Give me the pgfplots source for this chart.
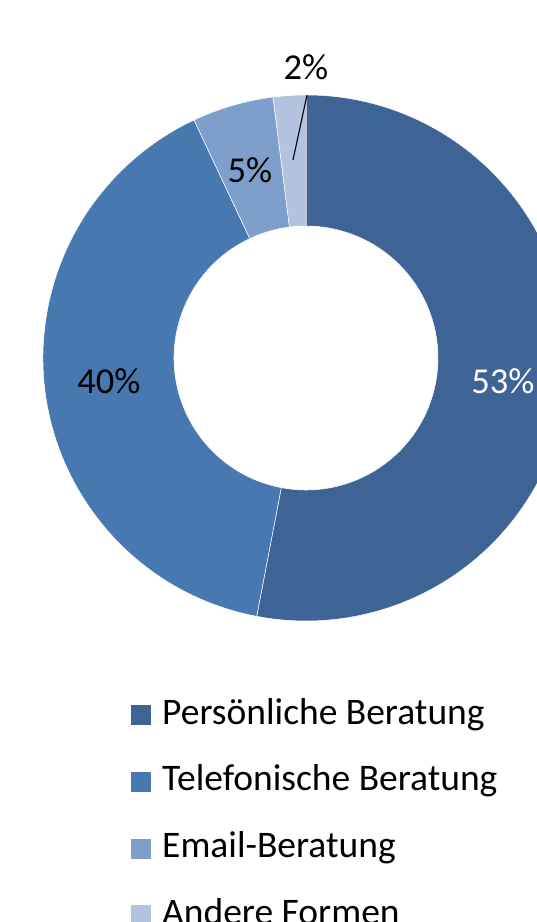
\documentclass[border=0pt]{standalone}
\usepackage{pgfplots}
\usepackage{pgfplotstable}
\pgfplotsset{compat=1.18}
\usepackage{fontspec}
\setmainfont{Carlito}
\definecolor{cA}{HTML}{3E6496}
\definecolor{cB}{HTML}{4878B0}
\definecolor{cC}{HTML}{7E9ECC}
\definecolor{cD}{HTML}{B2C2DF}
\pgfplotstableread{
label value
P 53
T 40
E 5
A 2
}\piedata
\begin{document}
\begin{tikzpicture}
\useasboundingbox (0,0) rectangle (537pt,922pt);
\clip (0,0) rectangle (537pt,922pt);
\pgfplotstablegetelem{0}{value}\of\piedata \let\vA\pgfplotsretval
\pgfplotstablegetelem{1}{value}\of\piedata \let\vB\pgfplotsretval
\pgfplotstablegetelem{2}{value}\of\piedata \let\vC\pgfplotsretval
\pgfplotstablegetelem{3}{value}\of\piedata \let\vD\pgfplotsretval
\pgfmathsetmacro\aO{90}
\pgfmathsetmacro\aA{\aO-3.6*\vA}
\pgfmathsetmacro\aB{\aA-3.6*\vB}
\pgfmathsetmacro\aC{\aB-3.6*\vC}
\pgfmathsetmacro\aD{\aC-3.6*\vD}
\def\ro{263pt}\def\ri{132pt}
\begin{axis}[hide axis, x=1pt, y=1pt, xmin=0, xmax=537, ymin=0, ymax=922,
  anchor=south west, at={(0,0)}, clip=false,
  legend cell align=left,
  legend style={draw=none, fill=none, inner sep=0pt, at={(axis cs:131,223)}, anchor=north west,
    font=\fontsize{37.5pt}{42pt}\selectfont, column sep=11pt, row sep=34.7pt,
    nodes={inner sep=0pt, text height=25pt, text depth=7pt}},
  legend image code/.code={\fill[#1, draw=none] (0pt,-10pt) rectangle (20pt,10pt);},
]
\addlegendimage{fill=cA, draw=none}\addlegendentry{Persönliche Beratung}
\addlegendimage{fill=cB, draw=none}\addlegendentry{Telefonische Beratung}
\addlegendimage{fill=cC, draw=none}\addlegendentry{Email-Beratung}
\addlegendimage{fill=cD, draw=none}\addlegendentry{Andere Formen}
\def\wedge#1#2#3{%
  \fill[#1, draw=white, line width=0.5pt] ([shift={(axis cs:306,564)}]#2:\ro) arc[start angle=#2, end angle=#3, radius=\ro]
    -- ([shift={(axis cs:306,564)}]#3:\ri) arc[start angle=#3, end angle=#2, radius=\ri] -- cycle;}
\wedge{cA}{\aO}{\aA}
\wedge{cB}{\aA}{\aB}
\wedge{cC}{\aB}{\aC}
\wedge{cD}{\aC}{\aD}
\draw[black, line width=1.1pt] (axis cs:307,827) -- (axis cs:293,762);
\node[white, font=\fontsize{36.5pt}{40pt}\selectfont] at (axis cs:503,541) {53\%};
\node[black, font=\fontsize{36.5pt}{40pt}\selectfont] at (axis cs:109,541) {40\%};
\node[black, font=\fontsize{36.5pt}{40pt}\selectfont] at (axis cs:250,752) {5\%};
\node[black, font=\fontsize{36.5pt}{40pt}\selectfont] at (axis cs:306,855) {2\%};
\end{axis}
\end{tikzpicture}
\end{document}
